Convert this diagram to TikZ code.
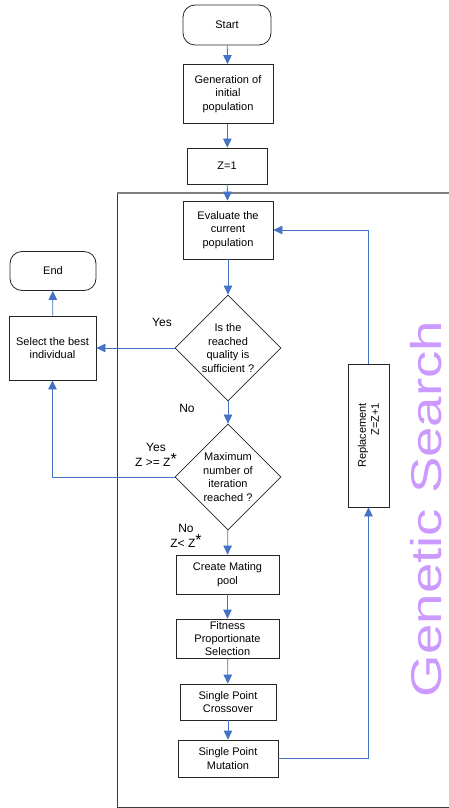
\documentclass[tikz,border=0pt]{standalone}
\usepackage{fontspec}
\setmainfont{Liberation Sans}
\usepackage{xcolor}
\usetikzlibrary{positioning, arrows.meta, shapes.geometric, calc}
\definecolor{cFlow}{HTML}{4472C4}
\definecolor{cFrame}{HTML}{3A3A3A}
\definecolor{cTop}{HTML}{808080}
\definecolor{cTitle}{HTML}{CC99FF}

\begin{document}
\begin{tikzpicture}[x=1pt, y=-1pt,
    box/.style={draw=black!85, line width=0.8pt, align=center, inner sep=0pt,
      font=\fontsize{11}{13.4}\selectfont},
    term/.style={box, rounded corners=12pt},
    decide/.style={draw=black!85, line width=0.8pt, diamond, aspect=1, inner sep=0pt,
      minimum width=106pt, minimum height=106pt},
    qtext/.style={align=center, inner sep=0pt, font=\fontsize{11}{13.5}\selectfont},
    lbl/.style={align=center, inner sep=0pt, font=\fontsize{12}{15}\selectfont},
    flow/.style={draw=cFlow, line width=0.8pt, -{Triangle[length=9pt, width=8.5pt]}}]
  \useasboundingbox (0,0) rectangle (449,808);

  % frame of the search loop
  \draw[cFrame, line width=0.9pt] (449,807) -- (117,807) -- (117,193);
  \draw[cTop, line width=1.5pt] (116.5,193) -- (449,193);
  \node[rotate=90, anchor=base, text=cTitle, inner sep=0pt, font=\fontsize{43}{43}\selectfont]
    (title) at (441,509) {\scalebox{1.27}[1]{Genetic Search}};

  % main column
  \node[term, minimum width=88pt, minimum height=40pt] (start) at (227,25) {Start};
  \node[box, minimum width=90pt, minimum height=59pt] (gen) at (228,94) {Generation of\\initial\\population};
  \node[box, minimum width=80pt, minimum height=36pt] (zone) at (227,166) {Z=1};
  \node[box, minimum width=90pt, minimum height=58pt] (eval) at (228,230) {Evaluate the\\current\\population};
  \node[decide] (qual) at (228,348) {};
  \node[qtext] (qualtxt) at (qual) {Is the\\reached\\quality is\\sufficient ?};
  \node[decide] (iter) at (228,477) {};
  \node[qtext] (itertxt) at (iter) {Maximum\\number of\\iteration\\reached ?};
  \node[box, minimum width=103pt, minimum height=39pt] (mate) at (227.5,574.5) {Create Mating\\pool};
  \node[box, minimum width=103pt, minimum height=39pt] (fit) at (227.5,638.5) {Fitness\\Proportionate\\Selection};
  \node[box, minimum width=96pt, minimum height=36pt] (cross) at (228,702) {Single Point\\Crossover};
  \node[box, minimum width=100pt, minimum height=37pt] (mut) at (228,758.5) {Single Point\\Mutation};

  % left and right
  \node[box, minimum width=87pt, minimum height=64pt] (best) at (52.5,348) {Select the best\\individual};
  \node[term, minimum width=86pt, minimum height=39pt] (end) at (53,271) {End};
  \node[box, rotate=90, align=right, minimum width=143pt, minimum height=41pt,
    font=\fontsize{11}{13}\selectfont] (repl) at (368.5,435.5) {Replacement\\Z=Z+1};

  % labels
  \node[lbl] (yesa) at (162,322) {Yes};
  \node[lbl] (noa) at (187,408) {No};
  \node[lbl] (yesb) at (156,455) {Yes\\Z >= Z\raisebox{2pt}{\fontsize{16}{16}\selectfont *}};
  \node[lbl] (nob) at (186,536) {No\\Z< Z\raisebox{2pt}{\fontsize{16}{16}\selectfont *}};

  % connectors
  \draw[flow] (start) -- (gen);
  \draw[flow] (gen) -- (zone);
  \draw[flow] (zone) -- (eval);
  \draw[flow] (eval) -- (qual);
  \draw[flow] (qual.west) -- (best.east);
  \draw[flow] (best) -- (end);
  \draw[flow] (qual) -- (iter);
  \draw[flow] (iter.west) -| (best.south);
  \draw[flow] (iter) -- (mate);
  \draw[flow] (mate) -- (fit);
  \draw[flow] (fit) -- (cross);
  \draw[flow] (cross) -- (mut);
  \draw[flow] (mut.east) -| (repl.west);
  \draw[flow] (repl.east) |- (eval.east);
\end{tikzpicture}
\end{document}
